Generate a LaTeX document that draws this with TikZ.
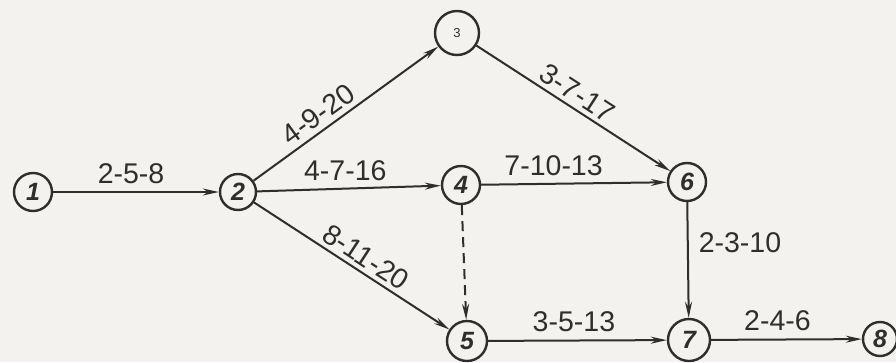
\documentclass[tikz,border=0pt]{standalone}
\usepackage{fontspec}
\setmainfont{Liberation Sans}
\usetikzlibrary{arrows.meta}
\definecolor{ink}{HTML}{2E2E2E}
\definecolor{paper}{HTML}{F4F2EE}
\begin{document}
\begin{tikzpicture}[x=1pt,y=-1pt,
  ev/.style={circle,draw=ink,line width=2.4pt,inner sep=0pt,text=ink,
    font=\fontsize{25}{25}\selectfont\bfseries\itshape},
  act/.style={draw=ink,line width=2pt,-{Stealth[length=16pt,width=7pt]}},
  lbl/.style={font=\fontsize{28.5}{28.5}\selectfont,text=ink,inner sep=2pt}]
\fill[paper] (0,0) rectangle (896,362);
\useasboundingbox (0,0) rectangle (896,362);
\node[ev,minimum size=38pt] (n1) at (33,192) {1};
\node[ev,minimum size=36pt] (n2) at (238,192) {2};
\node[ev,minimum size=44pt,font=\fontsize{13}{13}\selectfont] (n3) at (457,33) {3};
\node[ev,minimum size=38pt] (n4) at (461,185) {4};
\node[ev,minimum size=40pt] (n5) at (467,341) {5};
\node[ev,minimum size=38pt] (n6) at (687,182) {6};
\node[ev,minimum size=42pt] (n7) at (689,340) {7};
\node[ev,minimum size=34pt] (n8) at (880,339) {8};
\draw[act] (n1) -- node[lbl,above=5pt,pos=0.47] (l12) {2-5-8} (n2);
\draw[act] (n2) -- node[lbl,above=3pt,pos=0.40,sloped] (l23) {4-9-20} (n3);
\draw[act] (n2) -- node[lbl,above=5pt,pos=0.48] (l24) {4-7-16} (n4);
\draw[act] (n2) -- node[lbl,above=2pt,pos=0.53,sloped] (l25) {8-11-20} (n5);
\draw[act] (n3) -- node[lbl,above=2pt,pos=0.48,sloped] (l36) {3-7-17} (n6);
\draw[act] (n4) -- node[lbl,above=5pt,pos=0.39] (l46) {7-10-13} (n6);
\draw[act,dash pattern=on 10pt off 6pt] (n4) -- (n5);
\draw[act] (n6) -- node[lbl,right=8pt,pos=0.35] (l67) {2-3-10} (n7);
\draw[act] (n5) -- node[lbl,above=6pt,pos=0.48] (l57) {3-5-13} (n7);
\draw[act] (n7) -- node[lbl,above=6pt,pos=0.44] (l78) {2-4-6} (n8);
\end{tikzpicture}
\end{document}
